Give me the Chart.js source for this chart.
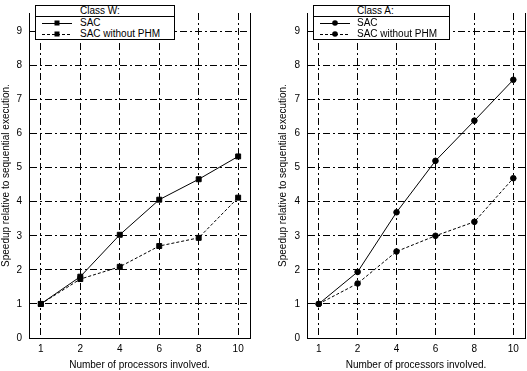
<!DOCTYPE html>
<html lang="en">
<head>
<meta charset="UTF-8" />
<title>speedup</title>
<script src="https://cdn.jsdelivr.net/npm/chart.js@4.4.0/dist/chart.umd.min.js"></script>
<style>
  body { margin: 0; background: #fff; font-family: 'Liberation Sans', Arial, sans-serif; }
  #wrap { position: relative; width: 527px; height: 371px; overflow: hidden; background: #fff; }
  .panel { position: absolute; top: 0; height: 371px; }
  .legend { position: absolute; top: 5px; background: #fff; border: 1px solid #000; font-size: 10px; color: #000; line-height: 10px; box-sizing: border-box; }
  .legend .ttl { border-bottom: 1px solid #000; height: 10px; }
  .legend .row { height: 11px; display: flex; align-items: center; }
  .legend svg { display: block; }
</style>
</head>
<body>
<div id="wrap">
  <div class="panel" style="left:0; width:262px;"><canvas id="chartW"></canvas></div>
  <div class="panel" style="left:277px; width:250px;"><canvas id="chartA"></canvas></div>
  <div class="legend" id="legW" style="left:35px; width:140px;"></div>
  <div class="legend" id="legA" style="left:313px; width:137px;"></div>
</div>

<script>
  // processors (evenly spaced categories)
  const procs = ['1', '2', '4', '6', '8', '10'];
  const yTicks = [0, 1, 2, 3, 4, 5, 6, 7, 8, 9];

  // Class W
  const sacW = [1.0, 1.80, 3.03, 4.06, 4.66, 5.33];
  const sacNoPhmW = [1.0, 1.73, 2.09, 2.70, 2.94, 4.12];
  // Class A
  const sacA = [1.0, 1.94, 3.69, 5.20, 6.38, 7.58];
  const sacNoPhmA = [1.0, 1.60, 2.54, 3.00, 3.41, 4.69];

  const seriesNames = ['SAC', 'SAC without PHM'];
  const font = { family: "'Liberation Sans', Arial, sans-serif", size: 10 };
  const gridDash = [7, 3, 2, 3];

  const frame = {
    id: 'frame',
    afterDatasetsDraw(chart) {
      const { ctx, chartArea: a } = chart;
      ctx.save();
      ctx.strokeStyle = '#000';
      ctx.lineWidth = 1;
      ctx.beginPath();
      ctx.moveTo(Math.round(a.right) + 0.5, a.top);
      ctx.lineTo(Math.round(a.right) + 0.5, a.bottom);
      ctx.stroke();
      ctx.restore();
    }
  };

  function points(vals) {
    return vals.map((v, i) => ({ x: i + 1, y: v }));
  }

  function makeChart(id, sac, noPhm, marker, rightPad, yWidth) {
    const ctx = document.getElementById(id).getContext('2d');
    return new Chart(ctx, {
      type: 'line',
      data: {
        datasets: [
          {
            label: seriesNames[0],
            data: points(sac),
            borderColor: '#000',
            backgroundColor: '#000',
            borderWidth: 1,
            pointStyle: marker,
            pointRadius: marker === 'rect' ? 3.5 : 2.8,
            tension: 0
          },
          {
            label: seriesNames[1],
            data: points(noPhm),
            borderColor: '#000',
            backgroundColor: '#000',
            borderWidth: 1,
            borderDash: [3, 2],
            pointStyle: marker,
            pointRadius: marker === 'rect' ? 3.5 : 2.8,
            tension: 0
          }
        ]
      },
      options: {
        responsive: true,
        maintainAspectRatio: false,
        animation: false,
        layout: { autoPadding: false, padding: { top: 0, left: 0, right: rightPad, bottom: 0 } },
        plugins: { legend: { display: false }, tooltip: { enabled: false } },
        scales: {
          x: {
            type: 'linear',
            min: 0.7,
            max: 6.3,
            afterBuildTicks: s => { s.ticks = procs.map((p, i) => ({ value: i + 1 })); },
            afterFit: s => { s.height = 33; },
            ticks: { color: '#000', font, padding: 5, callback: (v) => procs[v - 1] },
            grid: { color: '#000', lineWidth: 1, drawTicks: false },
            border: { color: '#000', width: 1, dash: gridDash },
            title: { display: true, text: 'Number of processors involved.', color: '#000', font, padding: { top: 0, bottom: 0 } }
          },
          y: {
            min: 0,
            max: 9.54,
            afterBuildTicks: s => { s.ticks = yTicks.map(v => ({ value: v })); },
            afterFit: s => { s.width = yWidth; },
            ticks: { color: '#000', font, padding: 7 },
            grid: { color: '#000', lineWidth: 1, drawTicks: false },
            border: { color: '#000', width: 1, dash: gridDash },
            title: { display: true, text: 'Speedup relative to sequential execution.', color: '#000', font, padding: { top: 0, bottom: 0 } }
          }
        }
      },
      plugins: [frame]
    });
  }

  function sample(dashed, marker) {
    const dash = dashed ? ' stroke-dasharray="3,2"' : '';
    const m = marker === 'rect'
      ? '<rect x="12.5" y="2.5" width="5" height="5" fill="#000"/>'
      : '<circle cx="15" cy="5" r="2.8" fill="#000"/>';
    return '<svg width="30" height="10"><line x1="0" y1="5.5" x2="30" y2="5.5" stroke="#000" stroke-width="1"' + dash + '/>' + m + '</svg>';
  }

  function makeLegend(id, title, marker, sampleLeft, textLeft) {
    const el = document.getElementById(id);
    let html = '<div class="ttl" style="padding-left:' + textLeft + 'px">' + title + '</div>';
    seriesNames.forEach((n, i) => {
      html += '<div class="row"><span style="margin-left:' + sampleLeft + 'px">' + sample(i === 1, marker) + '</span>' +
        '<span style="margin-left:' + (textLeft - sampleLeft - 30) + 'px">' + n + '</span></div>';
    });
    el.innerHTML = html;
  }

  makeChart('chartW', sacW, sacNoPhmW, 'rect', 12, 29);
  makeChart('chartA', sacA, sacNoPhmA, 'circle', 2, 30);
  makeLegend('legW', 'Class W:', 'rect', 6, 44);
  makeLegend('legA', 'Class A:', 'circle', 6, 43);
</script>
</body>
</html>
